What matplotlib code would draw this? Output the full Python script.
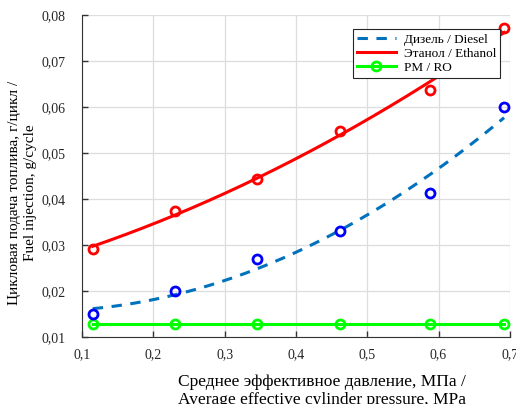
import numpy as np
import matplotlib.pyplot as plt

# среднее эффективное давление, МПа
pressure = [0.115, 0.231, 0.346, 0.462, 0.588, 0.692]
# цикловая подача, г/цикл
diesel = [0.0151, 0.0201, 0.0270, 0.0331, 0.0413, 0.0601]
ethanol = [0.0292, 0.0375, 0.0444, 0.0547, 0.0636, 0.0772]
ro = [0.0130, 0.0130, 0.0130, 0.0130, 0.0130, 0.0130]

x_ticks = [0.1, 0.2, 0.3, 0.4, 0.5, 0.6, 0.7]
x_tick_labels = ['0,1', '0,2', '0,3', '0,4', '0,5', '0,6', '0,7']
y_ticks = [0.01, 0.02, 0.03, 0.04, 0.05, 0.06, 0.07, 0.08]
y_tick_labels = ['0,01', '0,02', '0,03', '0,04', '0,05', '0,06', '0,07', '0,08']

plt.rcParams['font.family'] = ['Liberation Serif', 'DejaVu Serif']

fig = plt.figure(figsize=(5.16, 4.04), dpi=100)
ax = fig.add_axes([0.159, 0.165, 0.829, 0.798])

# квадратичная аппроксимация
xs = np.linspace(pressure[0], pressure[-1], 200)
fit_d = np.polyval(np.polyfit(pressure, diesel, 2), xs)
fit_e = np.polyval(np.polyfit(pressure, ethanol, 2), xs)

ax.plot(xs, fit_d, '--', color='#0072BD', lw=2.2, dashes=(3.4, 2.8), label='Дизель / Diesel')
ax.plot(xs, fit_e, '-', color='#FF0000', lw=2.2, label='Этанол / Ethanol')
ax.plot(pressure, ro, '-o', color='#00FF00', lw=2.2, ms=6.5, mfc='none', mew=2,
        label='PM / RO')
ax.plot(pressure, diesel, 'o', color='#0000FF', ms=6.5, mfc='none', mew=2)
ax.plot(pressure, ethanol, 'o', color='#FF0000', ms=6.5, mfc='none', mew=2)

ax.set_xlim(0.1, 0.7)
ax.set_ylim(0.01, 0.08)
ax.set_xticks(x_ticks)
ax.set_xticklabels(x_tick_labels)
ax.set_yticks(y_ticks)
ax.set_yticklabels(y_tick_labels)
ax.tick_params(direction='in', length=4, width=1, labelsize=10, color='#333333',
               labelcolor='#262626')
ax.tick_params(axis='y', pad=12)
ax.tick_params(axis='x', pad=8)
ax.grid(True, color='#DDDDDD', lw=0.9)
ax.set_axisbelow(True)
for s in ['top', 'right']:
    ax.spines[s].set_visible(False)
for s in ['left', 'bottom']:
    ax.spines[s].set_color('#333333')

ax.set_xlabel('Среднее эффективное давление, МПа /\nAverage effective cylinder pressure, MPa',
              fontsize=12.5, linespacing=1.1, multialignment='left', va='top')
ax.xaxis.set_label_coords(0.561, -0.115)
ax.set_ylabel('Цикловая подача топлива, г/цикл /\nFuel injection, g/cycle',
              fontsize=11, linespacing=1.35)
ax.yaxis.set_label_coords(-0.105, 0.448)

leg = ax.legend(loc='upper right', bbox_to_anchor=(0.978, 0.955), fontsize=9.5,
                fancybox=False, edgecolor='#262626', framealpha=1,
                handlelength=3.0, borderpad=0.3, labelspacing=0.15,
                handletextpad=0.6, borderaxespad=0)
leg.get_frame().set_linewidth(0.8)

fig.savefig('out.png', dpi=100)
